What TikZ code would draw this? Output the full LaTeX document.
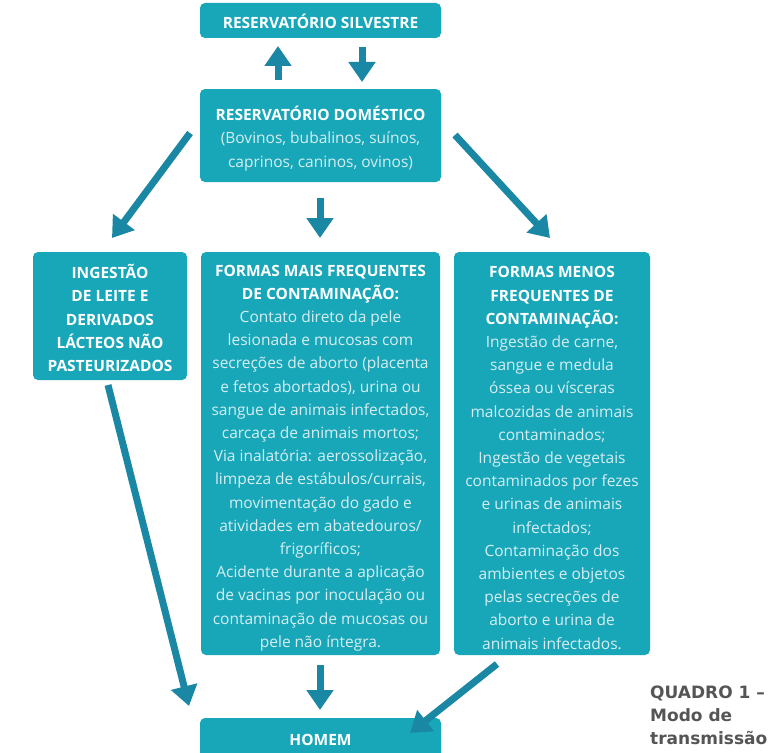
\documentclass[tikz,border=0pt]{standalone}
\usepackage{fontspec}
\setmainfont{Open Sans}
\newfontfamily\capfont{DejaVu Sans}
\usetikzlibrary{arrows.meta}
\definecolor{boxteal}{RGB}{24,167,185}
\definecolor{arrteal}{RGB}{26,136,164}
\definecolor{bodytxt}{RGB}{214,238,242}
\definecolor{capgray}{RGB}{85,85,85}
\newcommand{\hd}[1]{{\bfseries\color{white}#1}}
\tikzset{
  card/.style={fill=boxteal, rounded corners=5pt, inner sep=0pt},
  cardtxt/.style={inner sep=0pt, align=center, text=bodytxt,
    font=\fontsize{15.5}{23.2}\selectfont},
  flow/.style={draw=arrteal, line width=7pt, -{Triangle[width=26pt,length=20pt]}},
  captxt/.style={anchor=north west, inner sep=0pt, align=left, text=capgray,
    font=\capfont\bfseries\fontsize{17}{23}\selectfont}
}
\begin{document}
\begin{tikzpicture}[x=1pt,y=-1pt]
\clip (0,0) rectangle (768,752);
\fill[white] (0,0) rectangle (768,752);

% boxes
\node[card, minimum width=241pt, minimum height=35pt] (sil) at (320.5,20.5) {};
\node[card, minimum width=241pt, minimum height=93pt] (dom) at (320.5,135.5) {};
\node[card, minimum width=154pt, minimum height=128pt] (ing) at (110,316) {};
\node[card, minimum width=239pt, minimum height=403pt] (mais) at (320.5,453.5) {};
\node[card, minimum width=196pt, minimum height=403pt] (menos) at (552,453.5) {};
\node[card, minimum width=241pt, minimum height=44pt] (hom) at (320.5,740) {};

% box texts
\node[cardtxt] (silT) at ([yshift=-1pt]sil.center) {\hd{RESERVATÓRIO SILVESTRE}};
\node[cardtxt] (domT) at ([yshift=-3pt]dom.center)
  {\hd{RESERVATÓRIO DOMÉSTICO}\\(Bovinos, bubalinos, suínos,\\caprinos, caninos, ovinos)};
\node[cardtxt] (ingT) at ([yshift=-2pt]ing.center)
  {\hd{INGESTÃO}\\\hd{DE LEITE E}\\\hd{DERIVADOS}\\\hd{LÁCTEOS NÃO}\\\hd{PASTEURIZADOS}};
\node[cardtxt] (maisT) at ([yshift=-4.5pt]mais.center)
  {\hd{FORMAS MAIS FREQUENTES}\\\hd{DE CONTAMINAÇÃO:}\\
   Contato direto da pele\\lesionada e mucosas com\\secreções de aborto (placenta\\
   e fetos abortados), urina ou\\sangue de animais infectados,\\carcaça de animais mortos;\\
   Via inalatória: aerossolização,\\limpeza de estábulos/currais,\\movimentação do gado e\\
   atividades em abatedouros/\\frigoríficos;\\Acidente durante a aplicação\\
   de vacinas por inoculação ou\\contaminação de mucosas ou\\pele não íntegra.};
\node[cardtxt] (menosT) at ([yshift=-4.5pt]menos.center)
  {\hd{FORMAS MENOS}\\\hd{FREQUENTES DE}\\\hd{CONTAMINAÇÃO:}\\
   Ingestão de carne,\\sangue e medula\\óssea ou vísceras\\malcozidas de animais\\
   contaminados;\\Ingestão de vegetais\\contaminados por fezes\\e urinas de animais\\
   infectados;\\Contaminação dos\\ambientes e objetos\\pelas secreções de\\
   aborto e urina de\\animais infectados.};
\node[cardtxt] (homT) at (hom.center) {\hd{HOMEM}};

% caption
\node[captxt] (cap) at (650,686) {QUADRO 1 –\\Modo de\\transmissão};

% connector end points
\coordinate (upS) at (278,80);   \coordinate (upE) at (278,46);
\coordinate (dnS) at (362,47);   \coordinate (dnE) at (362,82);
\coordinate (lS) at (190,133);   \coordinate (lE) at (112,238);
\coordinate (cS) at (320,198);   \coordinate (cE) at (320,238);
\coordinate (rS) at (455,135);   \coordinate (rE) at (550,238);
\coordinate (ingS) at (108,385); \coordinate (ingE) at (189,706);
\coordinate (maisS) at (320,665);\coordinate (maisE) at (320,710);
\coordinate (menS) at (497,664); \coordinate (menE) at (410,733);

% connectors
\draw[flow] (upS) -- (upE);
\draw[flow] (dnS) -- (dnE);
\draw[flow] (lS) -- (lE);
\draw[flow] (cS) -- (cE);
\draw[flow] (rS) -- (rE);
\draw[flow] (ingS) -- (ingE);
\draw[flow] (maisS) -- (maisE);
\draw[flow] (menS) -- (menE);
\end{tikzpicture}
\end{document}
